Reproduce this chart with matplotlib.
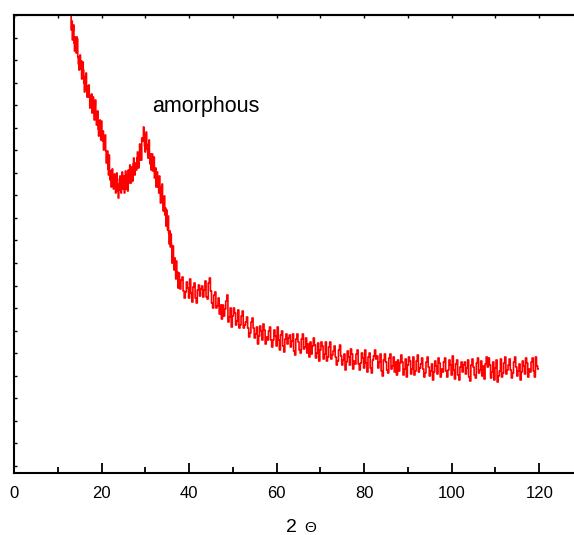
import numpy as np
import matplotlib.pyplot as plt

plt.rcParams['font.family'] = ['Liberation Sans', 'DejaVu Sans']

# scan grid, 2theta in degrees: finer step on the steep low-angle part
two_theta = np.concatenate([np.arange(13.0, 38.0, 0.125), np.arange(38.0, 120.0, 0.25)])

# intensity (arb. units)
# 13-38 deg: 40 points per 5 deg, 38-120 deg: 20 points per 5 deg
intensity = [
    460, 443, 452, 433, 442, 448, 430, 422, 436, 431, 420, 436, 434, 416, 409, 403, 415, 418, 404, 412,
    394, 401, 411, 403, 390, 381, 394, 397, 400, 383, 376, 387, 376, 388, 378, 365, 369, 377, 379, 360,
    364, 376, 368, 353, 368, 373, 356, 348, 355, 362, 344, 337, 351, 353, 341, 333, 352, 342, 332, 342,
    323, 329, 336, 338, 322, 310, 319, 322, 304, 298, 318, 302, 293, 302, 286, 303, 304, 290, 284, 297,
    299, 287, 280, 293, 300, 282, 289, 275, 283, 294, 297, 286, 280, 293, 301, 284, 289, 297, 280, 293,
    302, 284, 298, 291, 282, 303, 299, 290, 308, 296, 290, 306, 302, 292, 309, 315, 300, 298, 310, 306,
    303, 315, 321, 310, 305, 317, 329, 313, 322, 313, 335, 334, 332, 346, 339, 327, 321, 338, 341, 324,
    327, 315, 329, 333, 315, 309, 319, 303, 313, 319, 302, 310, 316, 295, 300, 305, 286, 298, 301, 286,
    295, 280, 297, 286, 270, 276, 285, 289, 270, 262, 270, 277, 258, 265, 247, 263, 254, 243, 257, 240,
    229, 242, 226, 239, 228, 210, 225, 227, 210, 203, 215, 206, 194, 212, 196, 201, 185, 199, 200, 185,
    184, 193, 196, 182, 175, 181, 191, 185, 175, 194, 180, 171, 186, 190, 175, 170, 183, 188, 177, 184,
    187, 176, 183, 192, 176, 174, 190, 195, 182, 170, 165, 178, 181, 165, 167, 175, 159, 168, 154, 168,
    157, 164, 172, 178, 151, 156, 165, 146, 157, 165, 160, 148, 152, 163, 145, 148, 157, 162, 145, 148,
    151, 156, 145, 136, 140, 151, 155, 145, 135, 139, 146, 129, 137, 147, 142, 133, 149, 143, 129, 136,
    133, 142, 146, 133, 126, 133, 143, 137, 127, 146, 133, 123, 138, 142, 127, 121, 134, 139, 129, 135,
    138, 126, 132, 139, 122, 118, 134, 139, 131, 123, 120, 134, 139, 124, 126, 135, 120, 129, 116, 131,
    119, 127, 135, 128, 115, 120, 130, 112, 123, 131, 127, 114, 119, 131, 112, 116, 126, 131, 114, 118,
    122, 127, 116, 108, 112, 123, 128, 117, 108, 113, 119, 103, 111, 122, 116, 108, 124, 119, 104, 112,
    109, 119, 123, 109, 103, 110, 120, 115, 105, 123, 110, 101, 116, 120, 105, 100, 113, 117, 123, 114,
    117, 105, 111, 119, 102, 97, 113, 119, 111, 103, 100, 115, 119, 104, 107, 116, 101, 111, 98, 113,
    102, 110, 118, 111, 98, 104, 114, 96, 108, 116, 112, 99, 104, 116, 98, 102, 112, 118, 101, 105,
    109, 115, 104, 96, 100, 111, 116, 106, 97, 102, 109, 93, 101, 112, 107, 99, 115, 110, 96, 104,
    101, 111, 115, 102, 96, 103, 113, 108, 98, 117, 103, 94, 109, 113, 98, 93, 106, 111, 101, 108,
    111, 99, 105, 113, 96, 92, 108, 114, 106, 98, 95, 110, 115, 100, 103, 112, 97, 107, 94, 109,
    116, 106, 115, 108, 95, 101, 111, 93, 105, 113, 91, 97, 102, 114, 96, 100, 110, 116, 99, 103,
    108, 114, 103, 95, 100, 111, 116, 106, 97, 102, 109, 93, 101, 112, 107, 99, 115, 110, 96, 104,
    101, 111, 115, 102, 96, 116, 107, 104,
]

x_major = [0, 20, 40, 60, 80, 100, 120]
x_labels = ['0', '20', '40', '60', '80', '100', '120']

fig = plt.figure(figsize=(5.74, 5.35), dpi=100)
ax = fig.add_axes([14 / 574, 62 / 535, 569 / 574, 458 / 535])

ax.plot(two_theta, intensity, color='red', linewidth=1.2, drawstyle='steps-mid')

ax.set_xlim(0, 130)
ax.set_ylim(0, 458)

ax.set_xticks(x_major)
ax.set_xticklabels(x_labels, fontsize=12)
ax.set_xticks(np.arange(10, 130, 20), minor=True)
ax.set_yticks(np.arange(7.5, 458, 22.5))
ax.set_yticklabels([])

ax.tick_params(axis='x', which='major', direction='in', length=7, width=1.3, pad=9)
ax.tick_params(axis='x', which='minor', direction='in', length=4, width=1.3)
ax.tick_params(axis='y', which='major', direction='in', length=2, width=1.0)

# short ticks along the top frame
top = ax.secondary_xaxis('top')
top.set_xticks(np.arange(0, 130, 10))
top.set_xticklabels([])
top.tick_params(direction='in', length=2, width=1.0)
top.spines['top'].set_linewidth(1.5)

for s in ax.spines.values():
    s.set_linewidth(1.5)

# axis title "2 Θ" with the smaller theta
trans = ax.get_xaxis_transform()
ax.text(64.7, -0.129, '2', transform=trans, ha='right', va='baseline', fontsize=14)
ax.text(66.3, -0.129, 'Θ', transform=trans, ha='left', va='baseline', fontsize=11)

ax.text(31.5, 361, 'amorphous', fontsize=15.5, ha='left', va='baseline')

fig.savefig('out.png', dpi=100)
